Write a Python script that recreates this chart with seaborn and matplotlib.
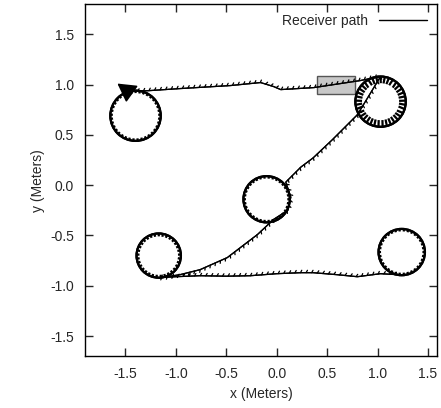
import matplotlib
matplotlib.use('Agg')
import matplotlib.pyplot as plt
import matplotlib.patheffects as pe
from matplotlib.patches import Circle, Rectangle
from matplotlib.lines import Line2D
import seaborn as sns
import pandas as pd

# receiver path waypoints (meters)
path_x = [-1.46, -1.26, -0.96, -0.46, -0.16, -0.03, 0.04, 0.37, 0.83, 1.03,
          0.80, 0.55, 0.36, 0.24, 0.09, 0.14, 0.11, -0.03,
          -0.19, -0.49, -0.76, -0.96, -1.09, -1.17,
          -1.00, -0.76, -0.50, -0.26, 0.00, 0.24, 0.36, 0.60, 0.80, 1.03, 1.20]
path_y = [0.93, 0.94, 0.96, 0.99, 1.02, 0.98, 0.95, 0.97, 1.04, 1.08,
          0.70, 0.45, 0.27, 0.18, 0.03, -0.12, -0.25, -0.34,
          -0.49, -0.72, -0.84, -0.89, -0.91, -0.92,
          -0.91, -0.90, -0.905, -0.90, -0.88, -0.87, -0.87, -0.89, -0.91, -0.88, -0.89]

# loops the receiver drove around
loop_x = [-1.40, 1.03, -0.10, -1.17, 1.24]
loop_y = [0.69, 0.83, -0.14, -0.70, -0.665]
loop_r = [0.25, 0.25, 0.23, 0.22, 0.23]
loop_hair = [0.6, 1.6, 0.6, 0.7, 0.6]

# gray box near the top
box_x, box_y, box_w, box_h = 0.40, 0.905, 0.38, 0.185

# start arrow
arrow_tail = (-1.44, 0.91)
arrow_head = (-1.58, 1.01)

df = pd.DataFrame({'x': path_x, 'y': path_y})

sns.set_style('ticks')
plt.rcParams['font.family'] = ['Liberation Sans', 'DejaVu Sans']
plt.rcParams['font.size'] = 10

fig = plt.figure(figsize=(4.41, 4.08), dpi=100)
ax = fig.add_axes([0.193, 0.127, 0.798, 0.863])

ax.add_patch(Rectangle((box_x, box_y), box_w, box_h, facecolor='#c8c8c8',
                       edgecolor='#555555', linewidth=1.0, zorder=1))

sns.lineplot(data=df, x='x', y='y', sort=False, estimator=None, color='black',
             linewidth=0.9, ax=ax, zorder=3, legend=False,
             path_effects=[pe.withTickedStroke(spacing=4, angle=60, length=0.5), pe.Normal()])

for cx, cy, r, h in zip(loop_x, loop_y, loop_r, loop_hair):
    ax.add_patch(Circle((cx, cy), r, fill=False, edgecolor='black', linewidth=1.6, zorder=3,
                        path_effects=[pe.withTickedStroke(spacing=3, angle=90, length=h),
                                      pe.Normal()]))

ax.annotate('', xy=arrow_head, xytext=arrow_tail,
            arrowprops=dict(arrowstyle='-|>,head_length=0.8,head_width=0.45', color='black',
                            mutation_scale=14, linewidth=1.2, shrinkA=0, shrinkB=0))

ax.set_xlim(-1.9, 1.59)
ax.set_ylim(-1.7, 1.8)
ax.set_xticks([-1.5, -1.0, -0.5, 0.0, 0.5, 1.0, 1.5])
ax.set_yticks([-1.5, -1.0, -0.5, 0.0, 0.5, 1.0, 1.5])
ax.set_xticklabels(['-1.5', '-1.0', '-0.5', '0.0', '0.5', '1.0', '1.5'])
ax.set_yticklabels(['-1.5', '-1.0', '-0.5', '0.0', '0.5', '1.0', '1.5'])
ax.tick_params(direction='in', length=6, width=1, top=True, right=True, labelsize=10, pad=8)
for s in ax.spines.values():
    s.set_linewidth(1.0)
    s.set_color('black')
ax.set_xlabel('x (Meters)', fontsize=10)
ax.set_ylabel('y (Meters)', fontsize=10)

ax.legend(handles=[Line2D([], [], color='black', linewidth=1.0)], labels=['Receiver path'],
          loc='upper right', frameon=False, markerfirst=False, handlelength=3.5,
          fontsize=10, borderaxespad=0.3)

fig.savefig('out.png', dpi=100)
